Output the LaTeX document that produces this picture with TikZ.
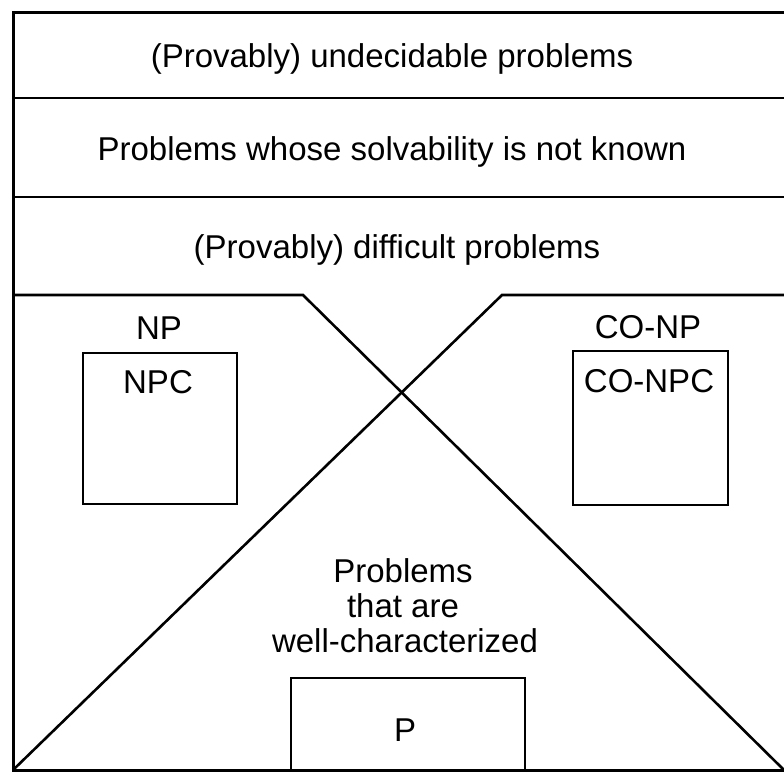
\documentclass[tikz,border=0pt]{standalone}
\usepackage{fontspec}
\setmainfont{Liberation Sans}
\begin{document}
\begin{tikzpicture}[x=1pt,y=-1pt,
  frame/.style={line width=3pt, line cap=rect},
  inner/.style={line width=2.6pt, line join=miter},
  lbl/.style={anchor=base, inner sep=0pt, font=\fontsize{33}{39}\selectfont},
  boxnode/.style={draw, line width=2.6pt, inner sep=0pt}]
\useasboundingbox (0,0) rectangle (784,772);
% frame and bands
\coordinate (tl) at (13,12);
\coordinate (tr) at (784,12);
\coordinate (bl) at (13,770);
\coordinate (br) at (784,770);
\draw[frame] (tr) -- (tl) -- (bl) -- (br);
\coordinate (d1l) at (13,98);  \coordinate (d1r) at (784,98);
\coordinate (d2l) at (13,197); \coordinate (d2r) at (784,197);
\draw[inner] (d1l) -- (d1r);
\draw[inner] (d2l) -- (d2r);
% split line and diagonals
\coordinate (d3l) at (13,295);
\coordinate (k1) at (303,295);
\coordinate (k2) at (502,295);
\coordinate (d3r) at (784,295);
\draw[inner] (d3l) -- (k1) -- (br);
\draw[inner] (d3r) -- (k2) -- (bl);
% band texts
\node[lbl] (t1) at (392,67) {(Provably) undecidable problems};
\node[lbl] (t2) at (392,160) {Problems whose solvability is not known};
\node[lbl] (t3) at (397,258) {(Provably) difficult problems};
% NP
\node[lbl] (np) at (159,339) {NP};
\node[boxnode, minimum width=154pt, minimum height=151pt] (npbox) at (160,428.5) {};
\node[lbl] (npc) at (158,393) {NPC};
% CO-NP
\node[lbl] (conp) at (648,338) {CO-NP};
\node[boxnode, minimum width=155pt, minimum height=154pt] (conpbox) at (650.5,428) {};
\node[lbl] (conpc) at (649,392) {CO-NPC};
% well-characterized
\node[lbl] (w1) at (403,582) {Problems};
\node[lbl] (w2) at (403,617) {that are};
\node[lbl] (w3) at (405,652) {well-characterized};
% P
\node[boxnode, minimum width=234pt, minimum height=92pt] (pbox) at (408,724) {};
\node[lbl] (p) at (405,741) {P};
\end{tikzpicture}
\end{document}
